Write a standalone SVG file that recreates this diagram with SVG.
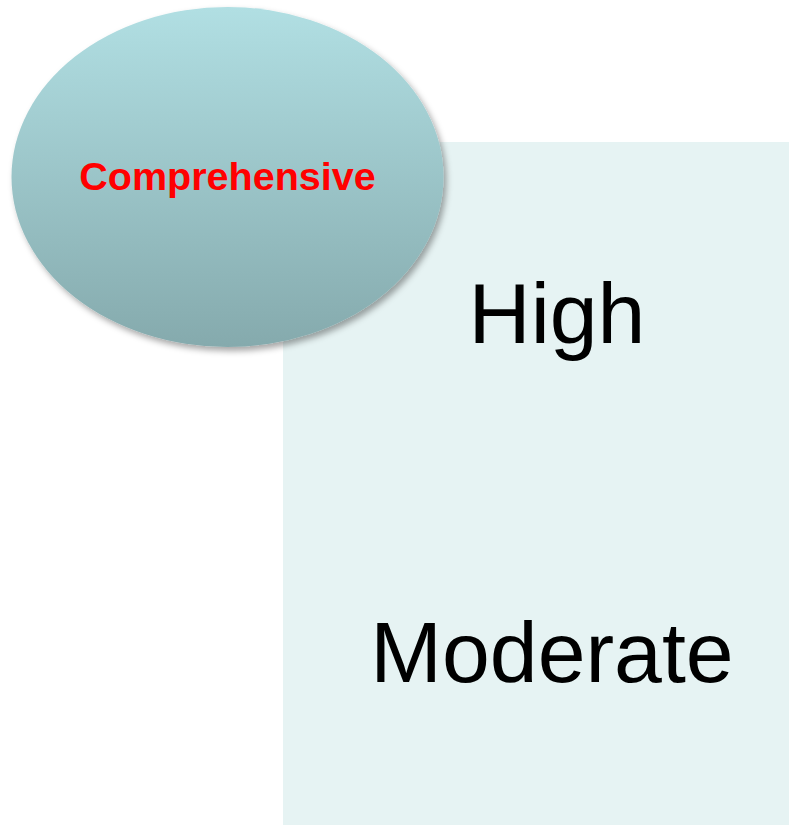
<svg xmlns="http://www.w3.org/2000/svg" width="789" height="825" viewBox="0 0 789 825">
  <defs>
    <linearGradient id="ovalFill" x1="0" y1="0" x2="0" y2="1">
      <stop offset="0" stop-color="#b1dfe3"/>
      <stop offset="1" stop-color="#85aaad"/>
    </linearGradient>
    <filter id="softShadow" x="-10%" y="-10%" width="125%" height="130%">
      <feDropShadow dx="3" dy="4" stdDeviation="3" flood-color="#000" flood-opacity="0.35"/>
    </filter>
    <style>
      .level { font-family: "Liberation Sans", Arial, sans-serif; font-size: 86px; fill: #000; text-anchor: middle; }
      .title { font-family: "Liberation Sans", Arial, sans-serif; font-size: 39.5px; font-weight: bold; fill: #ff0000; text-anchor: middle; }
    </style>
  </defs>
  <rect width="789" height="825" fill="#ffffff"/>

  <!-- background panel holding the levels -->
  <g id="panel">
    <rect x="283" y="142" width="506" height="683" fill="#e6f3f3"/>
    <text class="level" x="557" y="343">High</text>
    <text class="level" x="552" y="682">Moderate</text>
  </g>

  <!-- category bubble -->
  <g id="comprehensive">
    <ellipse cx="227.5" cy="177" rx="216" ry="170" fill="url(#ovalFill)" filter="url(#softShadow)"/>
    <text class="title" x="227.5" y="190">Comprehensive</text>
  </g>

  <g id="connectors"/>
</svg>
